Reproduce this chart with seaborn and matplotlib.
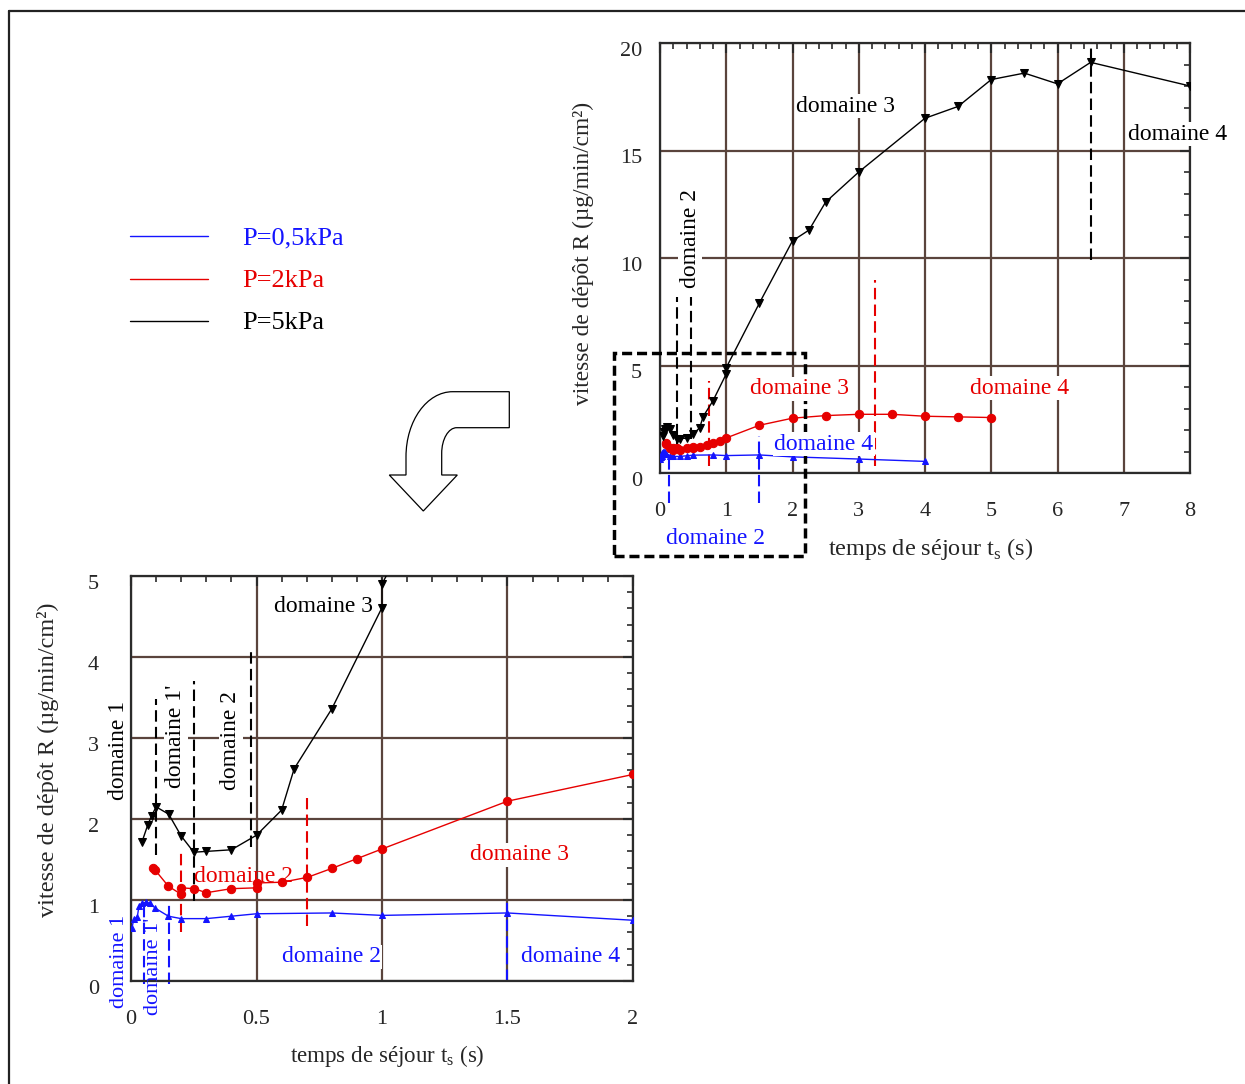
import matplotlib
matplotlib.use("Agg")
import matplotlib.pyplot as plt
import seaborn as sns
from matplotlib.lines import Line2D
from matplotlib.patches import Rectangle, PathPatch
from matplotlib.path import Path
from matplotlib.ticker import MultipleLocator
from matplotlib.transforms import ScaledTranslation

# données : temps de séjour (s) et vitesse de dépôt (µg/min/cm2)
t_05 = [0.004, 0.011, 0.025, 0.032, 0.045, 0.059, 0.077, 0.096, 0.149, 0.2, 0.3,
        0.4, 0.5, 0.8, 1.0, 1.5, 2.0, 3.0, 4.0]
r_05 = [0.66, 0.76, 0.79, 0.93, 0.96, 0.97, 0.96, 0.90, 0.80, 0.77, 0.77,
        0.80, 0.83, 0.84, 0.81, 0.84, 0.75, 0.65, 0.54]

t_2 = [0.087, 0.096, 0.149, 0.2, 0.2, 0.252, 0.3, 0.4, 0.5, 0.5, 0.603, 0.703,
       0.8, 0.9, 1.0, 1.5, 2.0, 2.5, 3.0, 3.5, 4.0, 4.5, 5.0]
r_2 = [1.40, 1.37, 1.17, 1.07, 1.15, 1.14, 1.09, 1.14, 1.15, 1.21, 1.22, 1.28,
       1.39, 1.51, 1.63, 2.22, 2.55, 2.67, 2.73, 2.73, 2.64, 2.61, 2.58]

t_5 = [0.043, 0.066, 0.082, 0.10, 0.15, 0.20, 0.25, 0.30, 0.40, 0.50, 0.60, 0.65,
       0.80, 1.0, 1.0, 1.5, 2.0, 2.25, 2.5, 3.0, 4.0, 4.5, 5.0, 5.5, 6.0, 6.5, 8.0]
r_5 = [1.71, 1.92, 2.04, 2.15, 2.06, 1.79, 1.59, 1.60, 1.62, 1.80, 2.11, 2.62,
       3.36, 4.61, 4.90, 7.9, 10.8, 11.3, 12.6, 14.0, 16.5, 17.05, 18.3, 18.6,
       18.1, 19.1, 18.0]

series_labels = ["P=0,5kPa", "P=2kPa", "P=5kPa"]
series_colors = ["#1414ff", "#e60000", "black"]
series_markers = ["^", "o", "v"]

# limites des domaines (t, R bas, R haut)
upper_bounds = {
    "black": [(0.25, 1.0, 8.2), (0.47, 1.56, 8.2), (6.5, 9.9, 19.8)],
    "#e60000": [(0.74, 0.31, 4.3), (3.24, 0.34, 8.96)],
    "#1414ff": [(0.14, -1.4, 1.4), (1.5, -1.4, 1.7)],
}
lower_bounds = {
    "black": [(0.10, 1.55, 3.48), (0.25, 0.99, 3.70), (0.48, 1.65, 4.11)],
    "#e60000": [(0.2, 0.60, 1.59), (0.7, 0.68, 2.26)],
    "#1414ff": [(0.052, -0.04, 0.97), (0.153, -0.04, 0.99), (1.5, 0.0, 1.03)],
}

upper_xticks = [0, 1, 2, 3, 4, 5, 6, 7, 8]
upper_yticks = [0, 5, 10, 15, 20]
lower_xticks = [0, 0.5, 1, 1.5, 2]
lower_xticklabels = ["0", "0.5", "1", "1.5", "2"]
lower_yticks = [0, 1, 2, 3, 4, 5]

ylabel = "vitesse de dépôt R (µg/min/cm²)"
xlabel = "temps de séjour t$_{\\mathregular{s}}$ (s)"

sns.set_style("white")
plt.rcParams['font.family'] = ['Liberation Serif', 'DejaVu Serif']
plt.rcParams['mathtext.fontset'] = 'custom'
plt.rcParams['mathtext.rm'] = 'Liberation Serif'

W, H = 1245, 1084
fig = plt.figure(figsize=(W / 100, H / 100), dpi=100)


def fx(x):
    return x / W


def fy(y):
    return 1 - y / H


grid_col = "#5a443c"
spine_col = "#2b2b2b"

ax_up = fig.add_axes([fx(660), fy(473), 530 / W, 430 / H])
ax_lo = fig.add_axes([fx(131), fy(981), 502 / W, 405 / H])

for ax in (ax_up, ax_lo):
    for t, r, c, m in zip((t_05, t_2, t_5), (r_05, r_2, r_5), series_colors, series_markers):
        ms = 5 if m == "^" else 6
        sns.lineplot(x=t, y=r, ax=ax, color=c, marker=m, markersize=ms,
                     markeredgecolor=c, linewidth=1.0, estimator=None, sort=False,
                     zorder=3)

# axes du haut
ax_up.set_xlim(0, 8)
ax_up.set_ylim(0, 20)
ax_up.set_xticks(upper_xticks)
ax_up.set_xticklabels([str(v) for v in upper_xticks])
ax_up.set_yticks(upper_yticks)
ax_up.set_yticklabels([str(v) for v in upper_yticks])
ax_up.xaxis.set_minor_locator(MultipleLocator(0.2))
ax_up.yaxis.set_minor_locator(MultipleLocator(1))
ax_up.tick_params(axis='x', pad=21)
ax_up.tick_params(axis='y', pad=13)

# axes du bas
ax_lo.set_xlim(0, 2)
ax_lo.set_ylim(0, 5)
ax_lo.set_xticks(lower_xticks)
ax_lo.set_xticklabels(lower_xticklabels)
ax_lo.set_yticks(lower_yticks)
ax_lo.set_yticklabels([str(v) for v in lower_yticks])
ax_lo.xaxis.set_minor_locator(MultipleLocator(0.1))
ax_lo.yaxis.set_minor_locator(MultipleLocator(0.2))
ax_lo.tick_params(axis='x', pad=21)
ax_lo.tick_params(axis='y', pad=23)

for ax in (ax_up, ax_lo):
    ax.grid(True, which='major', color=grid_col, linewidth=1.6)
    ax.tick_params(which='both', direction='in', top=True, right=True,
                   labelsize=16, color=spine_col)
    ax.tick_params(which='major', length=7, width=1.5)
    ax.tick_params(which='minor', length=4, width=1.2)
    for sp in ax.spines.values():
        sp.set_color(spine_col)
        sp.set_linewidth(1.6)
    for lbl in ax.get_yticklabels():
        lbl.set_transform(lbl.get_transform() + ScaledTranslation(0, -4 / 72, fig.dpi_scale_trans))
    if ax.get_legend() is not None:
        ax.get_legend().remove()

# limites de domaines en tirets
for ax, bounds in ((ax_up, upper_bounds), (ax_lo, lower_bounds)):
    for c, lst in bounds.items():
        for t, y0, y1 in lst:
            ax.plot([t, t], [y0, y1], color=c, linewidth=1.5, dashes=(5.5, 2.5),
                    clip_on=False, zorder=2.5)

# titres des axes
ax_up.set_ylabel(ylabel, fontsize=16.8)
ax_up.yaxis.set_label_coords((583 - 660) / 530, (473 - 253) / 430)
ax_up.set_xlabel(xlabel, fontsize=17.5)
ax_up.xaxis.set_label_coords((931 - 660) / 530, -(549 - 473) / 430)
ax_lo.set_ylabel(ylabel, fontsize=17.5)
ax_lo.yaxis.set_label_coords((48 - 131) / 502, (981 - 760) / 405)
ax_lo.set_xlabel(xlabel, fontsize=16.6)
ax_lo.xaxis.set_label_coords((387 - 131) / 502, -(1056 - 981) / 405)
for ax in (ax_up, ax_lo):
    ax.xaxis.label.set(va='center', ha='center')
    ax.yaxis.label.set(va='center', ha='center')

# étiquettes des domaines
blue, red = series_colors[0], series_colors[1]
notes = [
    (846, 106, "domaine 3", "black", 0, True, 17),
    (1178, 134, "domaine 4", "black", 0, True, 17),
    (690, 238, "domaine 2", "black", 90, True, 17),
    (800, 389, "domaine 3", red, 0, True, 17),
    (1020, 388, "domaine 4", red, 0, True, 17),
    (824, 444, "domaine 4", blue, 0, True, 17),
    (715, 539, "domaine 2", blue, 0, True, 17),
    (323, 606, "domaine 3", "black", 0, True, 17),
    (118, 750, "domaine 1", "black", 90, False, 17),
    (176, 736, "domaine 1'", "black", 90, True, 17),
    (231, 741, "domaine 2", "black", 90, True, 17),
    (243, 877, "domaine 2", red, 0, False, 17),
    (520, 855, "domaine 3", red, 0, True, 17),
    (331, 957, "domaine 2", blue, 0, True, 17),
    (571, 957, "domaine 4", blue, 0, True, 17),
    (119, 961, "domaine 1", blue, 90, False, 16),
    (154, 966, "domaine 1'", blue, 90, False, 16),
]
for x, y, s, c, rot, box, fs in notes:
    kw = dict(boxstyle='square,pad=0.05', fc='white', ec='none') if box else None
    fig.text(fx(x), fy(y), s, color=c, fontsize=fs, rotation=rot,
             ha='center', va='center', bbox=kw)

# légende
for y, lab, c in zip((236, 279, 321), series_labels, series_colors):
    fig.add_artist(Line2D([fx(130), fx(208)], [fy(y), fy(y)], color=c, linewidth=1.0))
    fig.text(fx(242), fy(y + 2), lab, color=c, fontsize=19, ha='left', va='center')

# cadre pointillé de la zone agrandie
fig.add_artist(Rectangle((fx(614), fy(556)), (805 - 614) / W, (556 - 353) / H,
                         transform=fig.transFigure, fill=False, edgecolor='black',
                         linewidth=2.5, linestyle=(0, (2.9, 1.4))))

# flèche courbe
P = [(452.7, 391.7), (509.3, 391.7), (509.3, 427.7), (456.7, 427.7),
     (448.4, 427.7), (441.7, 439.2), (441.7, 453.3),
     (441.7, 475), (457.3, 475), (423.3, 511), (389.3, 475), (406, 475), (406, 456.7),
     (406, 420.8), (426.9, 391.7), (452.7, 391.7), (452.7, 391.7)]
codes = ([Path.MOVETO] + [Path.LINETO] * 3 + [Path.CURVE4] * 3 + [Path.LINETO] * 6
         + [Path.CURVE4] * 3 + [Path.CLOSEPOLY])
arrow = Path([(fx(x), fy(y)) for x, y in P], codes)
fig.add_artist(PathPatch(arrow, transform=fig.transFigure, fc='white', ec='black', lw=0.9))

# bordure
fig.add_artist(Line2D([fx(9), fx(9)], [fy(11), 0], color='#222222', linewidth=1.6))
fig.add_artist(Line2D([fx(9), 1], [fy(11), fy(11)], color='#222222', linewidth=1.6))

plt.savefig('out.png', dpi=100)
